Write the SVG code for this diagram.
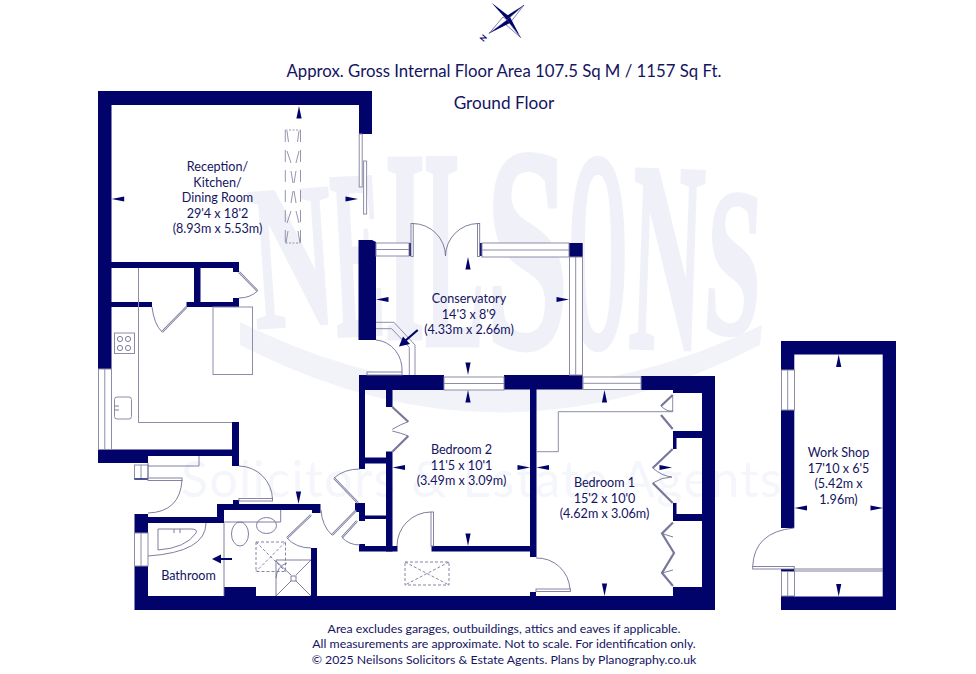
<svg xmlns="http://www.w3.org/2000/svg" width="976" height="674" viewBox="0 0 976 674">
<style>
text{font-family:"Lato","Liberation Sans",sans-serif;fill:#14145f;text-anchor:middle}
.lb{font-size:12.6px}
.ft{font-size:12.3px}
.wm{font-family:"Liberation Serif",serif;font-weight:700;font-size:285px;fill:#f0f1f8;stroke:#f0f1f8;stroke-width:5;text-anchor:start}
.wall{fill:#02026b}
.ln{fill:none;stroke:#8c8ca8;stroke-width:1}
.lg{fill:none;stroke:#6f6f95;stroke-width:.9}
.win{fill:#fff;stroke:#8c8ca8;stroke-width:1}
.leaf{fill:#fff;stroke:#77779c;stroke-width:.9}
.fold{fill:none;stroke:#77779c;stroke-width:2.2}
.foldi{fill:none;stroke:#fff;stroke-width:.7}
.dash{fill:none;stroke:#77779c;stroke-width:.9;stroke-dasharray:3 2}
</style>
<defs>
<path id="t" class="wall" d="M0 0L2.6 12.5H-2.6Z"/>
</defs>
<rect width="976" height="674" fill="#fff"/>
<g id="watermark">
<path d="M240 322Q500 452 762 325L760 345Q500 480 240 345Z" fill="#f2f3f9"/>
<text class="wm" transform="translate(256,328) rotate(-4) scale(.4,.72)">N</text>
<text class="wm" transform="translate(337,336) rotate(-3) scale(.26,.84)">E</text>
<text class="wm" transform="translate(385,338) scale(.36,.96)">I</text>
<text class="wm" transform="translate(425,345) scale(.31,1)">L</text>
<text class="wm" transform="translate(486,347) scale(.52,1.02)">S</text>
<text class="wm" transform="translate(568,347) scale(.27,1)">O</text>
<text class="wm" transform="translate(628,347) rotate(2) scale(.35,.95)">N</text>
<text class="wm" transform="translate(702,332) rotate(3) scale(.355,.74)">S</text>
<text x="482" y="497" style="font-size:50px;fill:#f5f6fb;letter-spacing:1.5px">Solicitors &amp; Estate Agents</text>
</g>
<g id="compass">
<path d="M507 20L491.5 2.7L510 17Z" class="wall"/>
<path d="M507 20L524 5L505 17Z" class="wall"/>
<path d="M507 20L524 5L510 23Z" fill="#fff" stroke="#02026b" stroke-width=".5"/>
<path d="M507 20L520.7 37.6L510 17Z" class="wall"/>
<path d="M507 20L520.7 37.6L504 23Z" fill="#fff" stroke="#02026b" stroke-width=".5"/>
<path d="M507 20L489 33.5L510 23Z" class="wall"/>
<path d="M507 20L489 33.5L503 17Z" fill="#fff" stroke="#02026b" stroke-width=".5"/>
<text transform="translate(485.5,40) rotate(-50)" style="font-size:8px;font-weight:700;fill:#02026b">N</text>
</g>
<g id="walls" class="wall">
<path d="M98 91H372V134H359V105H111.5V262H239V272H233V268H200.5V302H233V298H239V307H186.5V302H194V268H111.5V302H152V307H111.5V369H98Z"/>
<path d="M358.5 240H372L376 242V340H358.5Z"/>
<path d="M98 449.5H232V422H239V466H232V456H148V463H98Z"/>
<path d="M134.5 514H148V517H224V523H148V533H134.5Z"/>
<path d="M134.5 566H148V596H224V587H256V596H311V548H317V596H715V610H134.5Z"/>
<rect x="673" y="376" width="42" height="17"/>
<rect x="641" y="376" width="74" height="14"/>
<rect x="702" y="376" width="13" height="234"/>
<rect x="217" y="504" width="7" height="19"/>
<path d="M217 504H233V500H239V504H320.5V513H312V510H217Z"/>
<rect x="359" y="375" width="85" height="15"/>
<rect x="359" y="390" width="6" height="79"/>
<rect x="386" y="390" width="6.5" height="17"/>
<rect x="365" y="457.5" width="21" height="6"/>
<rect x="386" y="451.5" width="6.5" height="100"/>
<rect x="355" y="503" width="10" height="9"/>
<rect x="359" y="510" width="6" height="11"/>
<rect x="365" y="515.5" width="21" height="3.5"/>
<rect x="359" y="546" width="38.5" height="5.5"/>
<rect x="359" y="544" width="6" height="4"/>
<rect x="504" y="375" width="78.7" height="14.5"/>
<rect x="530" y="389" width="6.5" height="168"/>
<rect x="431.5" y="546" width="99" height="5.5"/>
<rect x="530" y="592" width="6" height="5"/>
<rect x="673" y="431" width="29" height="7"/>
<rect x="673" y="514" width="29" height="7"/>
<rect x="673" y="431" width="3.5" height="18"/>
<rect x="673" y="503" width="3.5" height="18"/>
<rect x="673" y="587" width="29" height="10"/>
<path d="M569 243H582.7V257H569Z"/>
<rect x="409" y="243" width="2.7" height="13"/>
<rect x="479" y="243" width="3" height="13"/>
<path d="M781 341H896V610H781V571H794.3V596.5H882.7V354.5H794.3V370H781Z"/>
<rect x="781" y="410" width="13.3" height="118"/>
<rect x="781" y="569" width="13.3" height="2.5"/>
</g>
<g id="windows">
<rect class="win" x="98.5" y="369" width="13" height="80.5"/><path class="ln" d="M104.8 369V449.5"/>
<rect class="win" x="134.5" y="465" width="13.5" height="14"/><path class="ln" d="M141 465V479"/><path d="M134.5 479H148" stroke="#02026b" stroke-width="1.2"/>
<rect class="win" x="134.5" y="533" width="13.5" height="33"/><path class="ln" d="M141 533V566"/>
<rect class="win" x="444" y="377" width="60" height="13"/><path class="ln" d="M444 383.5H504"/>
<rect class="win" x="583" y="377" width="58" height="12.5"/><path class="ln" d="M583 383.3H641"/>
<rect class="win" x="376" y="243" width="33" height="13"/><path class="ln" d="M376 249.5H409"/>
<rect class="win" x="482" y="243" width="87" height="14"/><path class="ln" d="M482 250H569"/>
<rect class="win" x="569.5" y="257" width="13" height="118"/><path class="ln" d="M575.7 257V375"/>
<rect class="win" x="781.5" y="370" width="13" height="40"/><path class="ln" d="M787.7 370V410"/>
<rect class="win" x="781.5" y="571.5" width="13" height="24.5"/><path class="ln" d="M787.7 571.5V596"/>
<rect class="win" x="359.2" y="134" width="3" height="53"/>
<rect class="win" x="363.6" y="161" width="3" height="53"/>
</g>
<g id="fittings">
<path class="ln" d="M138.5 268V422.5H232"/>
<rect class="ln" x="213" y="307" width="39.5" height="67.5"/>
<rect class="ln" x="114.5" y="333" width="20" height="20.5"/>
<g class="lg"><circle cx="120" cy="339" r="2.6"/><circle cx="128" cy="339" r="2.6"/><circle cx="120" cy="348" r="2.6"/><circle cx="128" cy="348" r="2.6"/></g>
<rect class="ln" x="114.5" y="397" width="17" height="22" rx="2.5"/>
<path class="lg" d="M114.5 406H119M114.5 410H119"/>
<path class="lg" d="M148 466H199V456M148 463V478"/>
<path class="lg" d="M224 523V596M224 522H280.7V510"/>
<ellipse class="lg" cx="240" cy="534" rx="8.5" ry="12"/>
<ellipse class="lg" cx="266.5" cy="525.5" rx="10" ry="8"/>
<path class="lg" d="M158 529H191Q198 529 196 533Q186 548 158 550Z"/>
<path class="lg" d="M174 529V533M180 529V533"/>
<path class="lg" d="M206 523Q206 552 148 556"/>
<rect class="dash" x="256" y="542" width="29.5" height="29.5"/>
<path class="dash" d="M256 542L285.5 571.5M285.5 542L256 571.5"/>
<rect class="dash" x="405" y="562" width="44" height="23"/>
<path class="dash" d="M405 562L449 585M449 562L405 585"/>
<g id="roof-light" fill="none" stroke="#7a7a9c" stroke-width=".8">
<path d="M285.3 130V243M300.5 130V243" stroke-dasharray="12 8"/>
<path d="M285.5 130H300.5M285.5 243H300.5" stroke-dasharray="2 1.5"/>
<path d="M287 131L288.5 142M299 131L297.5 142M287 151L291 163M299 151L296 163M291 171L293 183M296 171L294 183M293 191L291 203M294 191L296 203M291 211L287 223M296 211L299 223M288 231L286 243M298 231L300 243"/>
</g>
<g id="shower">
<path class="lg" d="M276 596V560H311M276 596L291 581M311 560L296 575M311 596L296 581M276 561L291 575"/>
<rect class="lg" x="291" y="576" width="5" height="5"/>
<path class="lg" d="M276 578Q277 566 287 563"/>
</g>
<path class="ln" d="M536 451.7H558.3V411.7H672.7"/>
<path class="ln" d="M672.7 395V412"/>
<path class="ln" d="M376 322.3H394L415 345V375M376 328.7H391.7L409.3 347.3V375"/>
<path class="lg" d="M794 569H883M794 571H883"/>
</g>
<g id="doors">
<path class="lg" d="M152 307Q154 324 162 332"/>
<path class="fold" d="M186.5 307L162 332"/><path class="foldi" d="M186.5 307L162 332"/>
<path class="fold" d="M239 272L257.5 291"/><path class="foldi" d="M239 272L257.5 291"/>
<path class="lg" d="M257.5 291Q250 298 239 298"/>
<rect class="leaf" x="148" y="478" width="34" height="2.5"/>
<path class="lg" d="M182 480Q180 512 148 513"/>
<rect class="leaf" x="239" y="498.5" width="33.5" height="2.5"/>
<path class="lg" d="M239 466A34 34 0 0 1 272.5 499"/>
<path class="fold" d="M311 515L287 538"/><path class="foldi" d="M311 515L287 538"/>
<path class="lg" d="M287 538Q296 548 311 548"/>
<path class="fold" d="M356 510.5L332 535"/><path class="foldi" d="M356 510.5L332 535"/>
<path class="lg" d="M321 510Q322 526 332 535"/>
<path class="fold" d="M334 478L358 503"/><path class="foldi" d="M334 478L358 503"/>
<path class="lg" d="M334 478Q344 469 360 469"/>
<path class="fold" d="M342 537.5L357 521"/><path class="foldi" d="M342 537.5L357 521"/>
<path class="lg" d="M342 537.5Q349 545 360 545"/>
<path class="fold" d="M392.3 407L408.3 421.7"/><path class="lg" d="M408.3 421.7Q401 424 392.3 429.3M392.3 431Q401 433 408.3 436"/><path class="fold" d="M408.3 436L392.3 451.7"/>
<rect class="leaf" x="431" y="512" width="2.5" height="34"/>
<path class="lg" d="M431 512A34 34 0 0 0 397 546"/>
<rect class="leaf" x="536" y="589" width="34.5" height="2.5"/>
<path class="lg" d="M570 589A33 33 0 0 0 536 558"/>
<path class="fold" d="M672.7 395L661 406"/><path class="lg" d="M661 406Q667 412 672.7 411"/><path class="fold" d="M661 415L672.7 429"/>
<path class="fold" d="M672.7 449L652.7 468"/><path class="lg" d="M652.7 468Q662 476 672 477M652.7 483Q662 477 672 477"/><path class="fold" d="M652.7 483L672.7 503"/>
<path class="fold" d="M673 522.5L662 533.5L674 553L662 573L673 586"/><path class="lg" d="M662 533.5L673 537M662 573L673 570"/>
<rect class="leaf" x="411" y="223.5" width="2.2" height="33"/>
<rect class="leaf" x="477.5" y="223.5" width="2.2" height="33"/>
<path class="lg" d="M413 223.5A33 33 0 0 1 445.5 256M478 223.5A33 33 0 0 0 445.5 256"/>
<path class="lg" d="M376 340A28 30 0 0 1 402 372"/>
<rect class="leaf" x="367" y="372" width="35" height="3"/>
<rect class="leaf" x="752.7" y="566.5" width="41.5" height="2.5"/>
<path class="lg" d="M752.7 566.5Q754 532 794 528"/>
</g>
<g id="connectors">
<use href="#t" transform="translate(299,106)"/>
<use href="#t" transform="translate(111.7,199) rotate(-90)"/>
<use href="#t" transform="translate(358,199) rotate(90)"/>
<use href="#t" transform="translate(468,257)"/>
<use href="#t" transform="translate(468,375) rotate(180)"/>
<use href="#t" transform="translate(376,299.5) rotate(-90)"/>
<use href="#t" transform="translate(569,299.5) rotate(90)"/>
<use href="#t" transform="translate(468,390)"/>
<use href="#t" transform="translate(468,546) rotate(180)"/>
<use href="#t" transform="translate(392.5,467.5) rotate(-90)"/>
<use href="#t" transform="translate(530,467.5) rotate(90)"/>
<use href="#t" transform="translate(604.5,390)"/>
<use href="#t" transform="translate(604.5,596) rotate(180)"/>
<use href="#t" transform="translate(536.5,467.5) rotate(-90)"/>
<use href="#t" transform="translate(672,467.5) rotate(90)"/>
<use href="#t" transform="translate(838.7,354.5)"/>
<use href="#t" transform="translate(838.7,596.5) rotate(180)"/>
<use href="#t" transform="translate(794.5,508) rotate(-90)"/>
<use href="#t" transform="translate(883,508) rotate(90)"/>
<use href="#t" transform="translate(298.5,504) rotate(180)"/>
<path d="M232 559H220" stroke="#02026b" stroke-width="2"/>
<path class="wall" d="M212 559L221 554.5V563.5Z"/>
<path d="M417.7 330L405 341" stroke="#02026b" stroke-width="2.2"/>
<path class="wall" d="M399 346.5L403 336.5L410 344Z"/>
</g>
<g id="labels">
<text class="lb" x="217.5" y="170.5">Reception/</text>
<text class="lb" x="217.5" y="186.5">Kitchen/</text>
<text class="lb" x="217.5" y="202">Dining Room</text>
<text class="lb" x="217.5" y="217.5">29'4 x 18'2</text>
<text class="lb" x="217.5" y="233">(8.93m x 5.53m)</text>
<text class="lb" x="469" y="303">Conservatory</text>
<text class="lb" x="469" y="318.5">14'3 x 8'9</text>
<text class="lb" x="469" y="334">(4.33m x 2.66m)</text>
<text class="lb" x="461.5" y="454">Bedroom 2</text>
<text class="lb" x="461.5" y="469.5">11'5 x 10'1</text>
<text class="lb" x="461.5" y="485">(3.49m x 3.09m)</text>
<text class="lb" x="604.5" y="487">Bedroom 1</text>
<text class="lb" x="604.5" y="502.5">15'2 x 10'0</text>
<text class="lb" x="604.5" y="518">(4.62m x 3.06m)</text>
<text class="lb" x="838.5" y="457">Work Shop</text>
<text class="lb" x="838.5" y="472.5">17'10 x 6'5</text>
<text class="lb" x="838.5" y="488">(5.42m x</text>
<text class="lb" x="838.5" y="503.5">1.96m)</text>
<text class="lb" x="188.5" y="580">Bathroom</text>
<text x="504" y="77" style="font-size:16.75px">Approx. Gross Internal Floor Area 107.5 Sq M / 1157 Sq Ft.</text>
<text x="504" y="108.5" style="font-size:17.2px">Ground Floor</text>
<text class="ft" x="504" y="632.5">Area excludes garages, outbuildings, attics and eaves if applicable.</text>
<text class="ft" x="504" y="648">All measurements are approximate. Not to scale. For identification only.</text>
<text class="ft" x="504" y="663.5">© 2025 Neilsons Solicitors &amp; Estate Agents. Plans by Planography.co.uk</text>
</g>
</svg>
